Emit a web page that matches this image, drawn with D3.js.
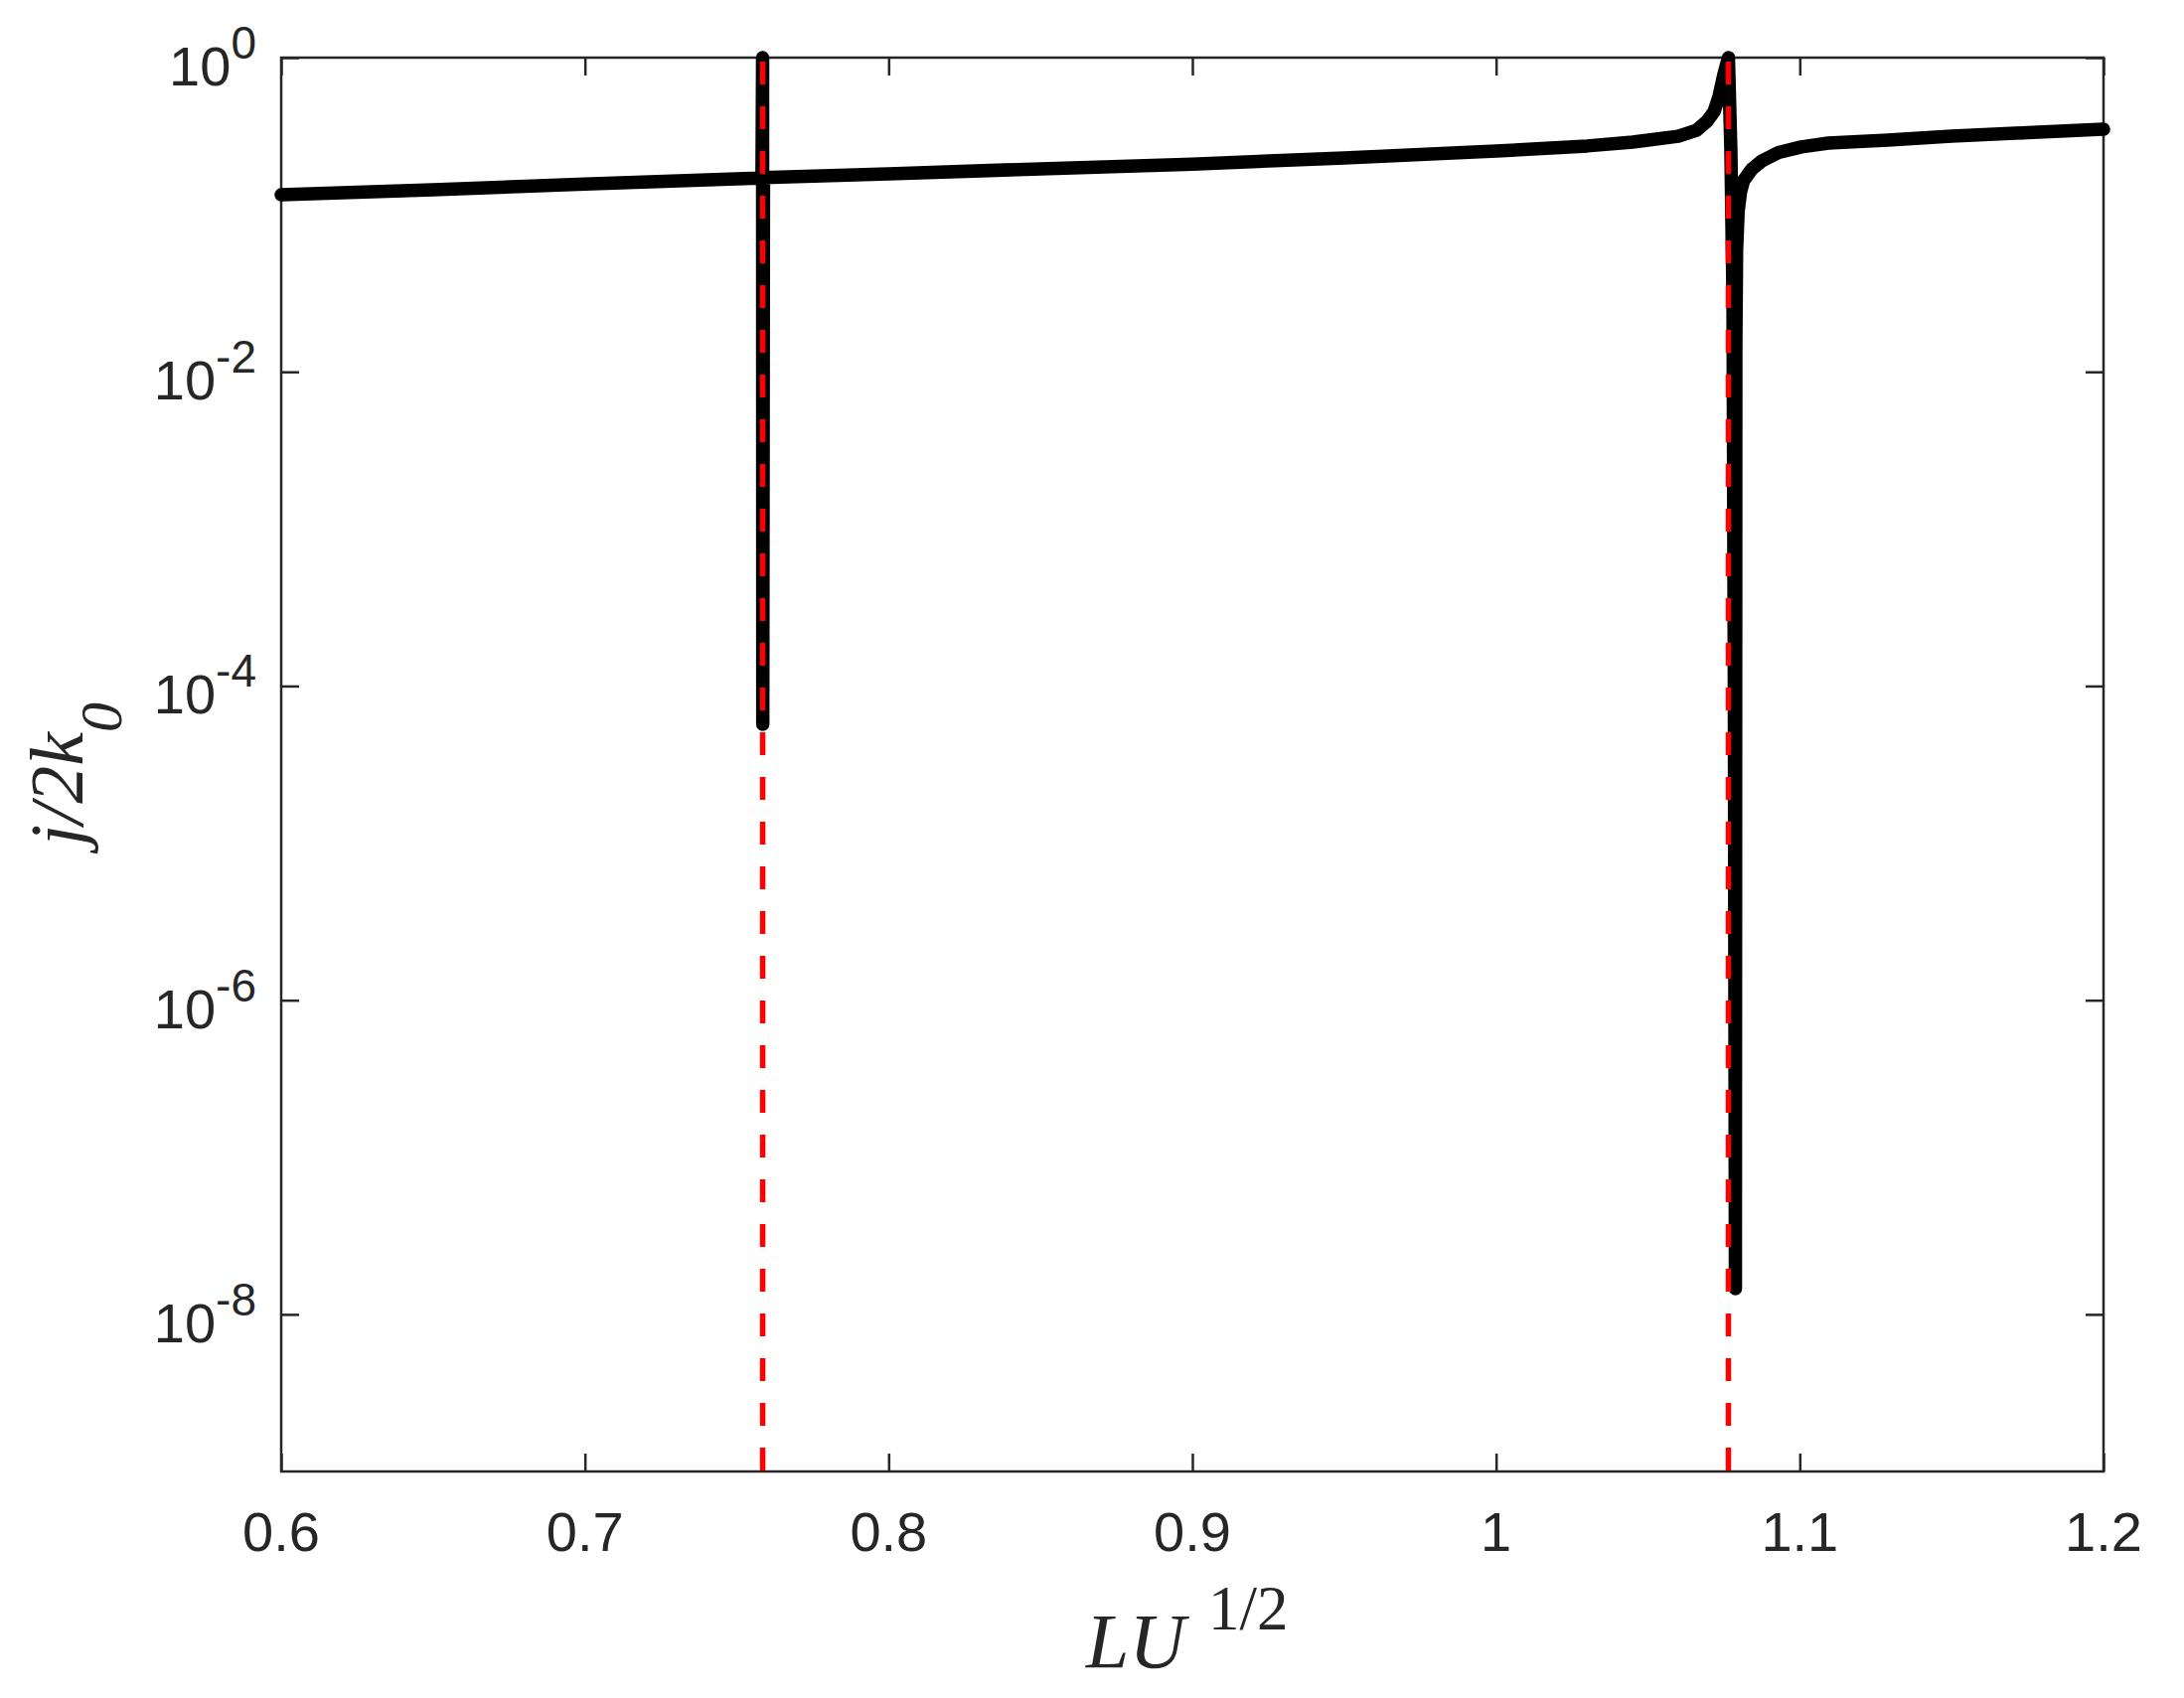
<!DOCTYPE html>
<html>
<head>
<meta charset="utf-8">
<script src="https://cdn.jsdelivr.net/npm/d3@7"></script>
<style>
  html, body { margin: 0; padding: 0; background: #ffffff; }
  svg { display: block; }
</style>
</head>
<body>
<svg id="chart" width="2198" height="1709"></svg>
<script>
// ---- data ----
const xTicks = [0.6, 0.7, 0.8, 0.9, 1.0, 1.1, 1.2];
const xTickLabels = ["0.6", "0.7", "0.8", "0.9", "1", "1.1", "1.2"];
const yTicks = [1, 1e-2, 1e-4, 1e-6, 1e-8];
const yTickExponents = ["0", "-2", "-4", "-6", "-8"];
const resonanceLU = [0.75853, 1.0765];

const luValues = [
  0.60, 0.65, 0.70, 0.75, 0.7583, 0.75850, 0.75856, 0.7588,
  0.80, 0.85, 0.90, 0.95, 1.00, 1.03, 1.045, 1.060, 1.066, 1.0695,
  1.0718, 1.0734, 1.0750, 1.0765, 1.0773, 1.0780, 1.07845, 1.0788,
  1.07895, 1.0792, 1.0797, 1.0805, 1.0815, 1.0842, 1.0875, 1.0930,
  1.1005, 1.1094, 1.1290, 1.1500, 1.1750, 1.2000
];
const jValues = [
  0.134, 0.144, 0.157, 0.169, 0.1715, 1.0, 5.7e-5, 0.172,
  0.182, 0.196, 0.210, 0.230, 0.254, 0.274, 0.290, 0.316, 0.345, 0.394,
  0.455, 0.567, 0.78, 1.0, 0.262, 0.029, 8.7e-5, 1.46e-8,
  0.015, 0.06, 0.105, 0.14, 0.165, 0.195, 0.22, 0.249,
  0.270, 0.286, 0.299, 0.316, 0.333, 0.350
];

// ---- layout ----
const svg = d3.select("#chart");
const L = 283, R = 2117, T = 58, B = 1481;
const axisColor = "#262626";

const x = d3.scaleLinear().domain([0.6, 1.2]).range([L, R]);
const y = d3.scaleLog().domain([1e-9, 1]).range([B, T]);

// frame
svg.append("rect")
  .attr("x", L).attr("y", T)
  .attr("width", R - L).attr("height", B - T)
  .attr("fill", "none").attr("stroke", axisColor).attr("stroke-width", 2.5);

function styleAxis(g) {
  g.select(".domain").remove();
  g.selectAll(".tick line").attr("stroke", axisColor).attr("stroke-width", 2.5);
  g.selectAll(".tick text").remove();
}

svg.append("g").attr("transform", `translate(0,${B})`)
  .call(d3.axisBottom(x).tickValues(xTicks).tickSize(-18).tickFormat(""))
  .call(styleAxis);
svg.append("g").attr("transform", `translate(0,${T})`)
  .call(d3.axisTop(x).tickValues(xTicks).tickSize(-18).tickFormat(""))
  .call(styleAxis);
svg.append("g").attr("transform", `translate(${L},0)`)
  .call(d3.axisLeft(y).tickValues(yTicks).tickSize(-18).tickFormat(""))
  .call(styleAxis);
svg.append("g").attr("transform", `translate(${R},0)`)
  .call(d3.axisRight(y).tickValues(yTicks).tickSize(-18).tickFormat(""))
  .call(styleAxis);

// x tick labels
svg.append("g").selectAll("text")
  .data(xTicks)
  .join("text")
  .attr("x", d => x(d))
  .attr("y", B + 80)
  .attr("text-anchor", "middle")
  .attr("font-family", "'Liberation Sans', Arial, sans-serif")
  .attr("font-size", 56)
  .attr("fill", axisColor)
  .text((d, i) => xTickLabels[i]);

// y tick labels
const yl = svg.append("g").selectAll("text")
  .data(yTicks)
  .join("text")
  .attr("x", 258)
  .attr("y", d => y(d) + 28)
  .attr("text-anchor", "end")
  .attr("font-family", "'Liberation Sans', Arial, sans-serif")
  .attr("font-size", 56)
  .attr("fill", axisColor);
yl.append("tspan").text("10");
yl.append("tspan").attr("dy", -27).attr("font-size", 46).text((d, i) => yTickExponents[i]);

// data line
const pts = luValues.map((v, i) => [v, jValues[i]]);
svg.append("path")
  .datum(pts)
  .attr("fill", "none")
  .attr("stroke", "#000000")
  .attr("stroke-width", 13.5)
  .attr("stroke-linejoin", "round")
  .attr("stroke-linecap", "round")
  .attr("d", d3.line().x(d => x(d[0])).y(d => y(d[1])));

// red dashed resonance lines
svg.append("g").selectAll("line")
  .data(resonanceLU)
  .join("line")
  .attr("x1", d => x(d)).attr("x2", d => x(d))
  .attr("y1", T).attr("y2", B)
  .attr("stroke", "#ff0000")
  .attr("stroke-width", 5.5)
  .attr("stroke-dasharray", "23,22")
  .attr("stroke-dashoffset", 41);

// x axis label
const xl = svg.append("text")
  .attr("x", 1093).attr("y", 1678)
  .attr("font-family", "'Liberation Serif', 'Times New Roman', serif")
  .attr("fill", axisColor);
xl.append("tspan").attr("font-style", "italic").attr("font-size", 78).text("LU");
svg.append("text")
  .attr("x", 1216).attr("y", 1640)
  .attr("font-family", "'Liberation Serif', 'Times New Roman', serif")
  .attr("font-size", 63)
  .attr("fill", axisColor)
  .text("1/2");

// y axis label
const ylab = svg.append("text")
  .attr("transform", "translate(83,779) rotate(-90)")
  .attr("text-anchor", "middle")
  .attr("font-family", "'Liberation Serif', 'Times New Roman', serif")
  .attr("font-style", "italic")
  .attr("fill", axisColor);
ylab.append("tspan").attr("font-size", 76).text("j/2k");
ylab.append("tspan").attr("font-size", 60).attr("dy", 39).text("0");
</script>
</body>
</html>
